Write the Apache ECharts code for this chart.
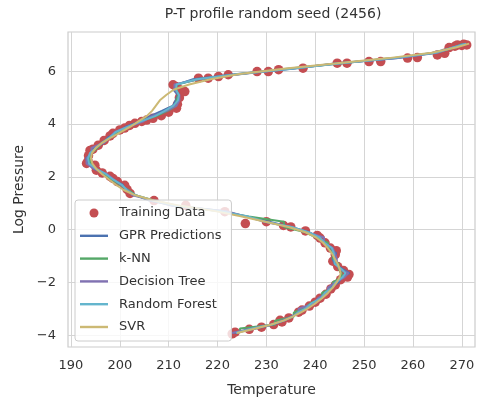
<!DOCTYPE html>
<html>
<head>
<meta charset="utf-8">
<script src="https://cdn.jsdelivr.net/npm/echarts@6/dist/echarts.min.js"></script>
<style>
  html, body { margin: 0; padding: 0; background: #ffffff; }
  #chart { width: 477px; height: 398px; }
</style>
</head>
<body>
<div id="chart"></div>
<script>
// Training samples: temperature and log pressure
const trainT = [223.0, 223.6, 226.5, 229.0, 231.5, 233.2, 232.8, 234.6, 236.6, 237.3,
  238.8, 240.0, 241.0, 242.2, 243.2, 244.1, 245.2, 246.6, 246.9, 245.8,
  244.6, 243.6, 244.1, 244.3, 243.1, 242.0, 241.0, 240.4, 238.0, 235.0,
  233.5, 230.0, 225.7, 221.5, 213.5, 207.0, 202.1, 201.5, 201.0, 199.5,
  198.6, 198.0, 196.4, 195.2, 194.9, 193.2, 193.5, 193.6, 193.9, 194.5,
  195.6, 196.8, 198.0, 198.6, 200.0, 201.0, 202.0, 203.1, 204.5, 205.5,
  206.8, 208.5, 210.0, 211.6, 211.8, 212.2, 212.3, 210.9, 211.5, 213.3,
  216.1, 218.1, 220.2, 222.2, 228.1, 230.4, 232.5, 237.5, 244.5, 246.5,
  251.0, 253.4, 258.9, 260.9, 265.0, 266.5, 267.4, 268.6, 269.1, 270.0,
  270.4, 271.0];
const trainLogP = [-3.95, -3.89, -3.78, -3.70, -3.60, -3.50, -3.44, -3.35, -3.13, -3.05,
  -2.90, -2.75, -2.60, -2.45, -2.25, -2.10, -1.90, -1.80, -1.70, -1.55,
  -1.40, -1.20, -0.95, -0.80, -0.70, -0.50, -0.32, -0.22, -0.05, 0.10,
  0.16, 0.30, 0.23, 0.68, 0.92, 1.10, 1.37, 1.52, 1.68, 1.82,
  1.94, 2.02, 2.15, 2.25, 2.44, 2.51, 2.60, 2.80, 3.00, 3.05,
  3.20, 3.38, 3.55, 3.65, 3.78, 3.85, 3.95, 4.03, 4.10, 4.15,
  4.22, 4.32, 4.45, 4.60, 4.75, 5.00, 5.30, 5.49, 5.42, 5.23,
  5.74, 5.74, 5.80, 5.87, 5.99, 5.99, 6.06, 6.12, 6.31, 6.31,
  6.37, 6.37, 6.50, 6.52, 6.62, 6.68, 6.90, 6.95, 7.00, 6.98,
  7.03, 7.00];

// Log pressure levels at which every model is evaluated
const predLogP = [-3.92, -3.75, -3.6, -3.45, -3.3, -3.15, -3.0, -2.8, -2.6, -2.4,
  -2.2, -2.0, -1.8, -1.65, -1.5, -1.3, -1.1, -0.9, -0.7, -0.5,
  -0.3, -0.1, 0.1, 0.3, 0.5, 0.7, 0.9, 1.1, 1.3, 1.5,
  1.7, 1.9, 2.1, 2.3, 2.5, 2.7, 2.9, 3.1, 3.3, 3.5,
  3.7, 3.9, 4.1, 4.3, 4.5, 4.7, 4.9, 5.1, 5.3, 5.5,
  5.7, 5.9, 6.1, 6.3, 6.5, 6.7, 6.9, 7.05];

// Predicted temperatures per model
const gprT = [223.2, 227.9, 231.4, 233.5, 235.0, 236.9, 237.6, 239.6, 240.7, 242.4,
  243.1, 244.8, 245.4, 247.0, 245.6, 244.0, 243.5, 244.3, 243.0, 242.2,
  240.5, 238.8, 235.0, 230.6, 225.6, 221.4, 211.6, 206.0, 203.4, 201.2,
  200.6, 198.5, 197.2, 194.7, 193.5, 193.1, 194.2, 194.8, 196.8, 197.6,
  199.6, 201.2, 204.1, 206.2, 208.6, 210.9, 211.4, 211.9, 211.0, 211.8,
  215.0, 224.0, 235.4, 244.0, 256.9, 264.0, 268.4, 270.6];
const knnT = [224.6, 224.6, 231.8, 231.8, 235.6, 235.6, 237.4, 239.0, 241.4, 241.4,
  243.6, 243.6, 245.4, 245.4, 244.8, 244.8, 243.6, 243.6, 242.6, 242.6,
  240.2, 238.0, 233.6, 233.6, 226.4, 220.0, 212.0, 207.0, 203.2, 201.8,
  200.0, 198.4, 196.6, 195.2, 194.0, 193.8, 194.2, 195.4, 196.4, 198.2,
  199.8, 201.8, 204.2, 207.4, 209.8, 211.6, 211.6, 212.0, 211.6, 211.6,
  216.2, 224.8, 234.2, 245.0, 255.8, 264.8, 268.4, 270.2];
const treeT = [223.0, 227.0, 231.2, 233.2, 235.2, 236.6, 236.6, 239.8, 240.6, 242.6,
  242.6, 244.2, 246.0, 246.8, 245.0, 244.4, 244.4, 244.0, 243.6, 241.8,
  241.8, 238.4, 235.0, 229.6, 225.8, 221.8, 210.6, 206.8, 202.6, 201.6,
  200.2, 198.8, 197.4, 194.8, 193.2, 193.2, 194.2, 194.2, 196.8, 198.0,
  199.0, 201.6, 204.8, 206.6, 209.6, 211.6, 212.2, 212.2, 211.2, 211.2,
  216.0, 225.0, 234.8, 244.6, 257.0, 265.0, 268.2, 270.6];
const forestT = [223.8, 227.2, 231.0, 233.6, 235.4, 236.4, 238.0, 239.2, 241.2, 242.0,
  243.5, 244.2, 245.6, 246.2, 245.4, 244.0, 243.9, 243.8, 243.4, 241.9,
  240.9, 238.6, 235.2, 229.8, 226.2, 220.6, 211.4, 206.8, 203.2, 201.4,
  200.4, 198.6, 197.2, 195.2, 193.7, 193.5, 193.9, 195.2, 196.4, 198.0,
  199.2, 201.7, 204.3, 207.2, 209.2, 211.0, 211.9, 212.1, 211.5, 211.6,
  215.8, 224.3, 235.2, 244.8, 256.2, 264.6, 268.2, 270.9];
const svrT = [224.0, 227.8, 231.0, 233.5, 235.4, 237.0, 238.4, 240.0, 241.4, 242.6,
  243.6, 244.4, 245.0, 245.2, 245.0, 244.6, 244.0, 243.4, 242.6, 241.6,
  240.2, 238.0, 234.5, 229.8, 225.0, 219.5, 212.5, 207.0, 203.2, 200.8,
  199.2, 197.8, 196.4, 195.2, 194.4, 194.1, 194.3, 195.1, 196.5, 198.3,
  200.3, 202.2, 203.8, 205.5, 206.6, 207.4, 208.2, 209.5, 211.0, 214.2,
  218.6, 224.5, 233.5, 244.0, 255.0, 263.8, 268.8, 271.5];

// Tick positions
const xTicks = [190, 200, 210, 220, 230, 240, 250, 260, 270];
const yTicks = [-4, -2, 0, 2, 4, 6];

const FONT = 'DejaVu Sans';
const TEXT = '#333333';
const GRID = '#d5d5d5';
// Thin horizontal bar used as the legend key for the model lines
const LINE_KEY = 'path://M0,0 L28,0 L28,2.4 L0,2.4 Z';

function pairs(xs, ys) {
  return xs.map((x, i) => [x, ys[i]]);
}
function minusSign(v) {
  return v < 0 ? '\u2212' + Math.abs(v) : String(v);
}

const models = [
  { name: 'GPR Predictions', color: '#4C72B0', temps: gprT },
  { name: 'k-NN', color: '#55A868', temps: knnT },
  { name: 'Decision Tree', color: '#8172B2', temps: treeT },
  { name: 'Random Forest', color: '#64B5CD', temps: forestT },
  { name: 'SVR', color: '#CCB974', temps: svrT }
];

const series = [{
  name: 'Training Data',
  type: 'scatter',
  symbol: 'circle',
  symbolSize: 9.5,
  itemStyle: { color: '#C44E52', opacity: 1 },
  data: pairs(trainT, trainLogP),
  z: 2
}].concat(models.map(m => ({
  name: m.name,
  type: 'line',
  showSymbol: false,
  symbol: 'none',
  smooth: false,
  lineStyle: { color: m.color, width: 2 },
  itemStyle: { color: m.color },
  data: pairs(m.temps, predLogP),
  z: 3
})));

const chart = echarts.init(document.getElementById('chart'), null, { renderer: 'canvas' });
chart.setOption({
  animation: false,
  backgroundColor: '#ffffff',
  textStyle: { fontFamily: FONT },
  title: {
    text: 'P-T profile random seed (2456)',
    left: 273,
    textAlign: 'center',
    top: 7,
    padding: 0,
    textStyle: { fontFamily: FONT, fontSize: 14, fontWeight: 'normal', color: TEXT }
  },
  grid: {
    left: 68, right: 2, top: 32, bottom: 51,
    outerBoundsMode: 'none',
    containLabel: false,
    show: true,
    borderColor: '#cccccc',
    borderWidth: 1.2,
    backgroundColor: '#ffffff'
  },
  xAxis: {
    type: 'value',
    min: 189.4,
    max: 272.7,
    name: 'Temperature',
    nameLocation: 'middle',
    nameGap: 36,
    nameTextStyle: { fontFamily: FONT, fontSize: 14, color: TEXT },
    axisLine: { show: false },
    axisTick: { show: false, customValues: xTicks },
    axisLabel: { customValues: xTicks, margin: 12, fontFamily: FONT, fontSize: 13, color: TEXT },
    splitLine: { show: true, lineStyle: { color: GRID, width: 1 } }
  },
  yAxis: {
    type: 'value',
    min: -4.45,
    max: 7.49,
    name: 'Log Pressure',
    nameLocation: 'middle',
    nameGap: 36,
    nameRotate: 90,
    nameTextStyle: { fontFamily: FONT, fontSize: 14, color: TEXT },
    axisLine: { show: false },
    axisTick: { show: false, customValues: yTicks },
    axisLabel: {
      customValues: yTicks, margin: 12, fontFamily: FONT, fontSize: 13, color: TEXT,
      formatter: minusSign
    },
    splitLine: { show: true, lineStyle: { color: GRID, width: 1 } }
  },
  legend: {
    orient: 'vertical',
    left: 75,
    top: 200,
    padding: [5, 10, 6, 5],
    itemGap: 6.8,
    itemWidth: 28,
    itemHeight: 9,
    backgroundColor: 'rgba(255,255,255,0.8)',
    borderColor: '#cccccc',
    borderWidth: 1,
    borderRadius: 3,
    textStyle: { fontFamily: FONT, fontSize: 13, color: TEXT, lineHeight: 16, padding: [0, 0, 0, 6] },
    data: [
      { name: 'Training Data', icon: 'circle' },
      { name: 'GPR Predictions', icon: LINE_KEY },
      { name: 'k-NN', icon: LINE_KEY },
      { name: 'Decision Tree', icon: LINE_KEY },
      { name: 'Random Forest', icon: LINE_KEY },
      { name: 'SVR', icon: LINE_KEY }
    ]
  },
  series: series
});
</script>
</body>
</html>
